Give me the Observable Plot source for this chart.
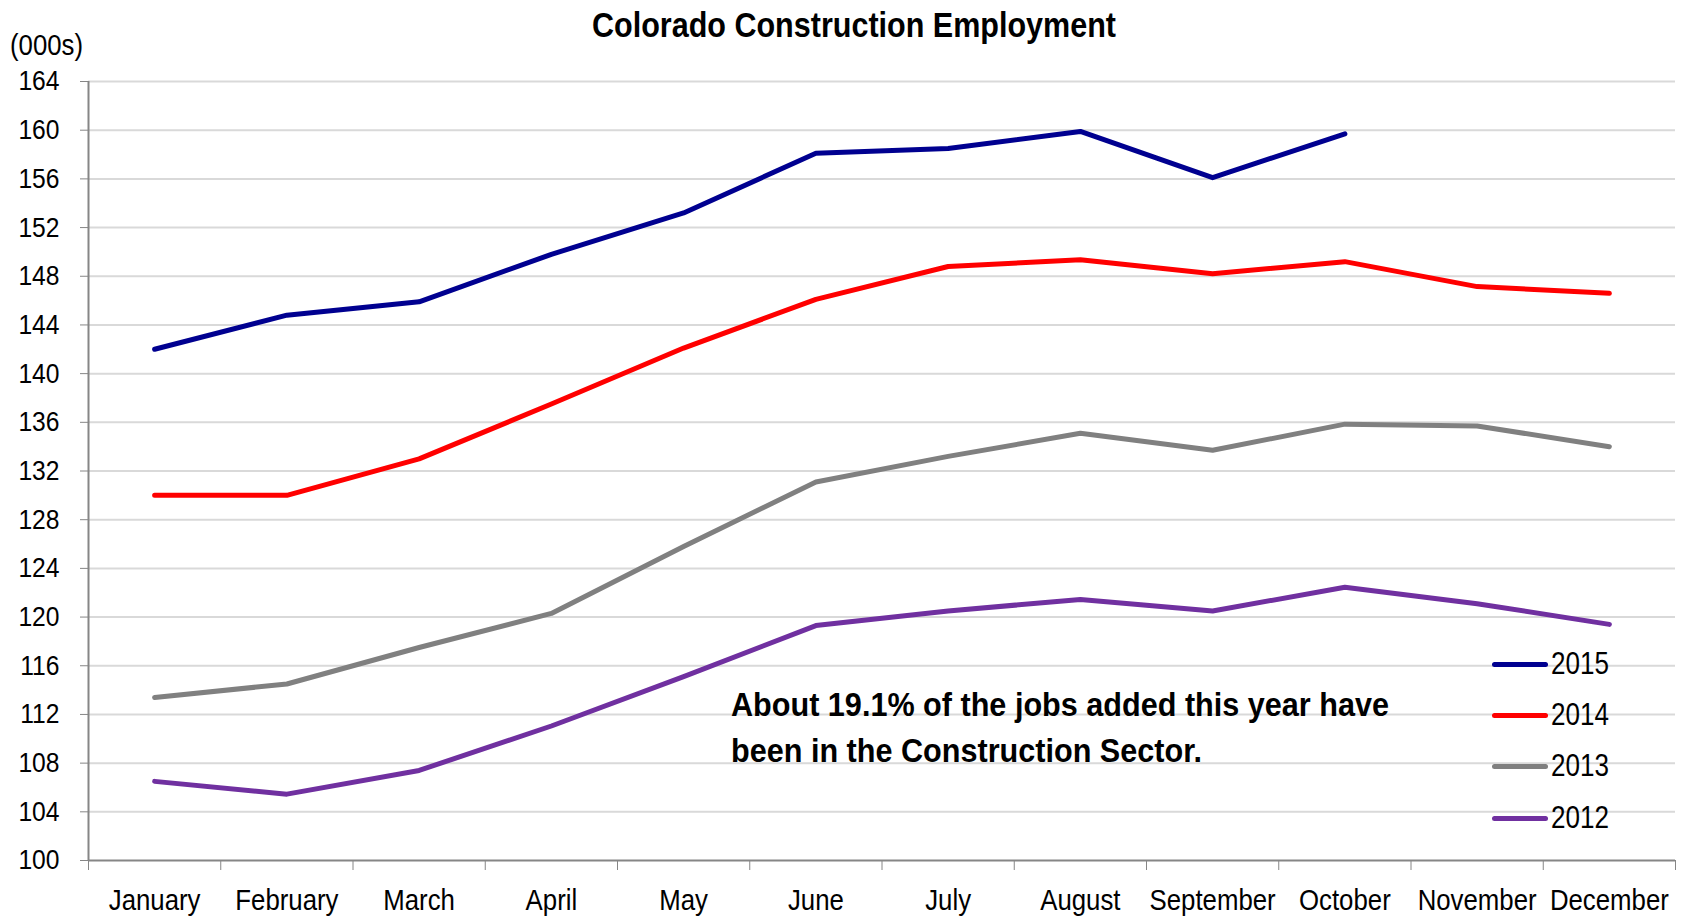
<!DOCTYPE html>
<html><head><meta charset="utf-8">
<script src="https://cdn.jsdelivr.net/npm/d3@7"></script>
<script src="https://cdn.jsdelivr.net/npm/@observablehq/plot@0.6"></script>
<style>
body{margin:0;background:#fff;}
#wrap{position:relative;width:1686px;height:917px;font-family:'Liberation Sans Narrow','Arial Narrow','Liberation Sans',Arial,sans-serif;color:#000;}
#chart{position:absolute;left:0;top:0;}
.ov{position:absolute;white-space:nowrap;color:#000;}
.lg{position:absolute;left:1492px;height:52px;display:flex;align-items:center;font-size:31px;}
.sw{display:inline-block;width:56px;height:5px;border-radius:3px;margin-right:3px;flex:none;}
.lt{display:inline-block;transform-origin:left center;}
</style></head><body>
<div id="wrap">
  <div id="chart"></div>
  <div class="ov" id="title" style="left:854px;top:7px;font-size:35px;font-weight:bold;line-height:35px;">Colorado Construction Employment</div>
  <div class="ov" id="units" style="left:10px;top:31px;font-size:29px;line-height:29px;transform-origin:left center;">(000s)</div>
  <div class="ov" style="left:731px;top:682px;font-size:33px;font-weight:bold;line-height:46px;">
    <div class="ann" style="transform-origin:left center;">About 19.1% of the jobs added this year have</div>
    <div class="ann" style="transform-origin:left center;">been in the Construction Sector.</div>
  </div>
  <div id="legend"></div>
</div>
<script>
const months = ["January","February","March","April","May","June","July","August","September","October","November","December"];
const years = ["2015","2014","2013","2012"];
const colors = ["#000090","#ff0000","#808080","#7030a0"];
const v2015 = [142.0,144.8,145.9,149.8,153.2,158.1,158.5,159.9,156.1,159.7,null,null];
const v2014 = [130.0,130.0,133.0,137.5,142.1,146.1,148.8,149.35,148.2,149.2,147.15,146.6];
const v2013 = [113.4,114.5,117.5,120.3,125.8,131.1,133.2,135.1,133.7,135.85,135.7,134.0];
const v2012 = [106.5,105.45,107.4,111.05,115.1,119.3,120.5,121.45,120.5,122.45,121.1,119.4];
const yTicks = d3.range(100,165,4);

const series = [v2015,v2014,v2013,v2012];
const data = years.flatMap((yr,k)=>series[k].map((v,i)=>({year:yr,i,month:months[i],value:v}))).filter(d=>d.value!=null);

const chart = Plot.plot({
  width:1686, height:917,
  marginLeft:88, marginRight:11, marginTop:81, marginBottom:57,
  x:{type:"linear", domain:[-0.5,11.5]},
  y:{domain:[100,164]},
  color:{domain:years, range:colors},
  style:{fontFamily:"'Liberation Sans Narrow','Arial Narrow','Liberation Sans',Arial,sans-serif", fontSize:"29px", background:"white", color:"#000", overflow:"visible"},
  marks:[
    Plot.ruleY(yTicks.filter(t=>t>100), {stroke:"#d9d9d9", strokeWidth:2}),
    Plot.axisY({ticks:yTicks, tickSize:8, tickPadding:21, stroke:"#868686", fill:"#000", fontSize:28, label:null, tickFormat:d=>String(d)}),
    Plot.axisX({ticks:d3.range(-0.5,12,1), tickSize:10, tickFormat:()=>"", stroke:"#868686", label:null}),
    Plot.axisX({ticks:d3.range(12), tickSize:0, tickPadding:28, tickFormat:i=>months[i], fill:"#000", fontSize:30, label:null}),
    Plot.ruleX([-0.5], {stroke:"#868686", strokeWidth:2}),
    Plot.ruleY([100], {stroke:"#868686", strokeWidth:2}),
    Plot.lineY(data, {x:"i", y:"value", z:"year", stroke:"year", strokeWidth:5, strokeLinecap:"round", strokeLinejoin:"round"})
  ]
});
document.getElementById("chart").appendChild(chart);

// condense text horizontally (narrow face is not installed)
function squeeze(sel, s){
  d3.select(chart).selectAll(sel).each(function(){
    const t = this.getAttribute("transform") || "";
    const x = parseFloat(this.getAttribute("x")) || 0;
    this.setAttribute("transform", `${t} translate(${x},0) scale(${s},1) translate(${-x},0)`);
  });
}
squeeze('g[aria-label="y-axis tick label"] text', 0.88);
squeeze('g[aria-label="x-axis tick label"] text', 0.86);

function fitWidth(el, target, extra){
  const w = el.getBoundingClientRect().width;
  el.style.transform = (extra||"") + ` scaleX(${target/w})`;
}
const title = document.getElementById("title");
title.style.transformOrigin = "left center";
{
  const w = title.getBoundingClientRect().width;
  const s = 524 / w;
  title.style.transform = `translateX(${-262}px) scaleX(${s})`;
}
fitWidth(document.getElementById("units"), 73);
const ann = document.querySelectorAll(".ann");
{
  const w0 = ann[0].scrollWidth;
  const r = document.createRange(); r.selectNodeContents(ann[0]);
  const w = r.getBoundingClientRect().width;
  const s = 658 / w;
  ann.forEach(a=>{a.style.transform = `scaleX(${s})`;});
}

const lg = document.getElementById("legend");
const centers = [664,715,766,818];
years.forEach((yr,k)=>{
  const row = document.createElement("div");
  row.className = "lg";
  row.style.top = (centers[k]-26)+"px";
  row.innerHTML = `<span class="sw" style="background:${colors[k]}"></span><span class="lt" style="transform:scaleX(0.84)">${yr}</span>`;
  lg.appendChild(row);
});
</script>
</body></html>
